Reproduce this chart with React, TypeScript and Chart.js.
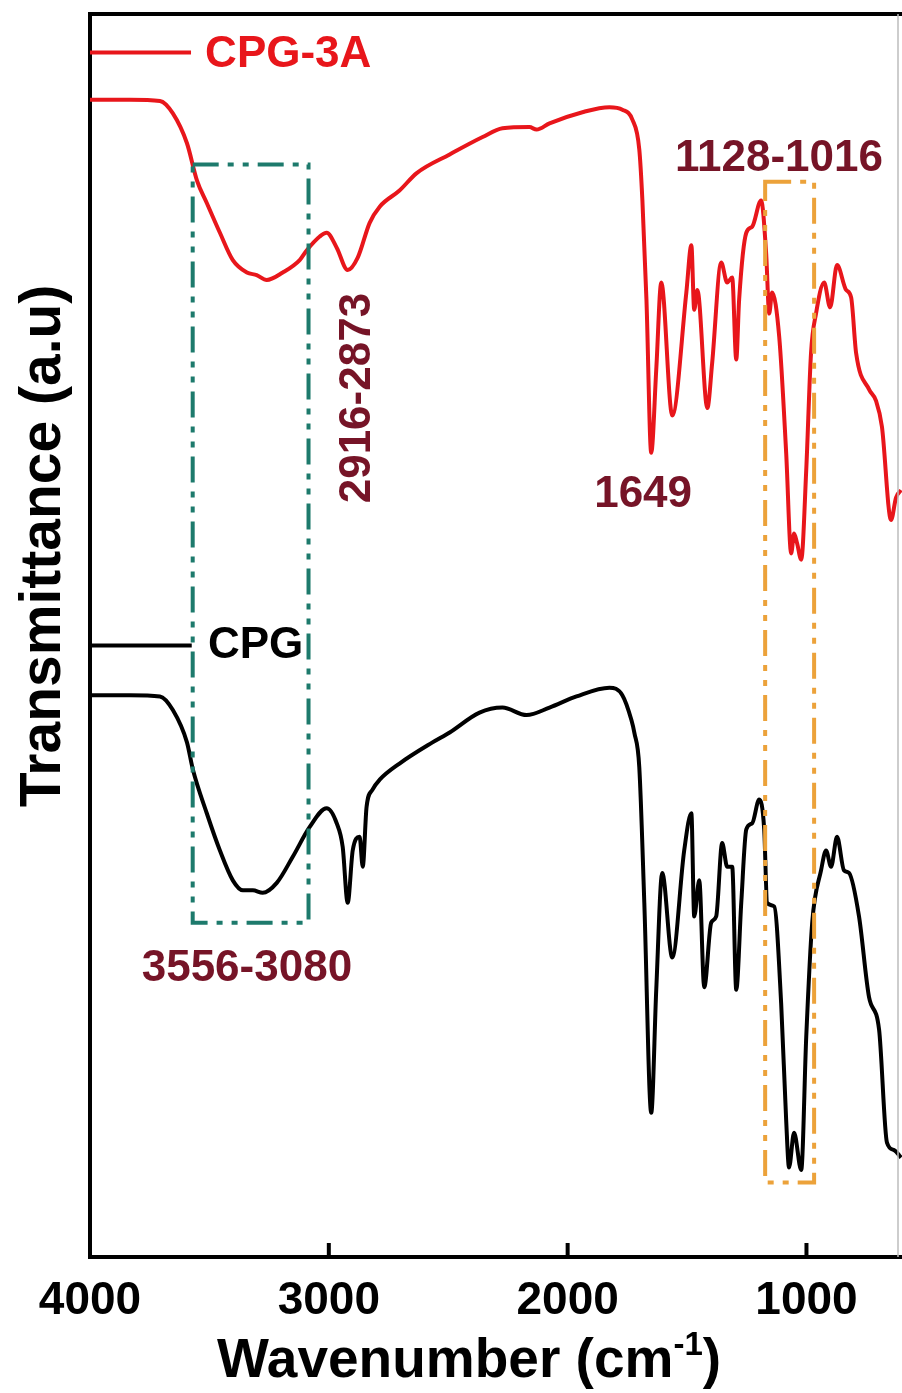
import React, { useEffect, useRef } from 'react';
import { Chart, registerables } from 'chart.js';

Chart.register(...registerables);

// ---- Data ----
const seriesNames = ['CPG-3A', 'CPG'];

const wavenumberCPG3A = [
  4000, 3833, 3707, 3653, 3594, 3552, 3511, 3456, 3402, 3343, 3302, 3260, 3193, 3122, 3092, 3038,
  3009, 2967, 2921, 2879, 2829, 2787, 2704, 2632, 2494, 2356, 2273, 2160, 2130, 2076, 1938, 1825,
  1771, 1729, 1700, 1687, 1670, 1650, 1629, 1608, 1562, 1503, 1482, 1470, 1457, 1415, 1395, 1357,
  1332, 1311, 1294, 1282, 1252, 1227, 1190, 1169, 1156, 1144, 1114, 1085, 1064, 1052, 1039, 1022,
  1001, 981, 960, 926, 901, 872, 834, 813, 792, 738, 709, 684, 646, 625, 604,
];
const transmittanceCPG3A = [
  93.1, 93.1, 93.0, 92.0, 89.6, 86.6, 84.8, 82.4, 80.2, 79.2, 79.0, 78.6, 79.2, 80.2, 81.0, 82.1,
  82.4, 81.2, 79.4, 80.4, 83.2, 84.5, 85.8, 87.2, 88.7, 90.1, 90.8, 90.9, 90.7, 91.2, 92.1, 92.5,
  92.3, 91.5, 89.1, 85.0, 77.0, 64.7, 71.4, 78.4, 67.7, 77.6, 81.4, 76.2, 77.8, 68.3, 71.9, 80.0,
  78.4, 78.8, 72.2, 77.0, 82.4, 82.9, 85.0, 80.8, 75.9, 77.6, 74.0, 64.7, 56.6, 58.2, 57.4, 56.1,
  63.3, 72.7, 75.9, 78.4, 76.4, 79.8, 77.8, 77.2, 72.7, 69.8, 68.9, 66.8, 59.3, 61.1, 61.7,
];

const wavenumberCPG = [
  4000, 3833, 3707, 3653, 3594, 3569, 3511, 3456, 3402, 3360, 3318, 3277, 3218, 3151, 3080, 3009,
  2967, 2942, 2921, 2900, 2871, 2858, 2842, 2817, 2787, 2704, 2566, 2494, 2369, 2273, 2172, 2076,
  1963, 1825, 1771, 1733, 1721, 1700, 1679, 1650, 1629, 1604, 1562, 1512, 1482, 1470, 1449, 1428,
  1399, 1378, 1353, 1332, 1311, 1294, 1273, 1252, 1227, 1198, 1177, 1165, 1135, 1106, 1085, 1073,
  1052, 1022, 1001, 976, 939, 918, 897, 872, 843, 822, 780, 738, 696, 663, 633, 604,
];
const transmittanceCPG = [
  45.2, 45.2, 45.1, 44.0, 41.4, 39.2, 35.7, 32.7, 30.3, 29.5, 29.5, 29.3, 30.1, 32.2, 34.6, 36.1,
  34.9, 33.0, 28.5, 32.7, 33.8, 31.4, 36.2, 37.6, 38.4, 39.7, 41.4, 42.2, 43.8, 44.2, 43.6, 44.2,
  45.1, 45.8, 45.2, 43.2, 42.2, 39.4, 28.5, 11.6, 21.5, 30.9, 24.1, 32.7, 35.7, 27.4, 30.3, 21.7,
  26.9, 27.4, 33.3, 31.4, 31.4, 21.5, 28.5, 34.4, 34.9, 36.8, 34.4, 28.5, 28.2, 20.4, 11.0, 7.2,
  10.0, 7.0, 17.7, 26.9, 31.1, 32.7, 31.4, 33.8, 31.1, 30.9, 27.4, 20.9, 18.3, 9.2, 8.6, 8.0,
];

const xTickValues = [4000, 3000, 2000, 1000];
const peakLabels = ['2916-2873', '1649', '1128-1016', '3556-3080'];

const FONT = '"Liberation Sans", Arial, Helvetica, sans-serif';
const RED = '#e8161b';
const MAROON = '#761427';
const TEAL = '#1d7a6c';
const ORANGE = '#eca23a';

Chart.defaults.font.family = FONT;

const toPoints = (xs: number[], ys: number[]) => xs.map((v, i) => ({ x: v, y: ys[i] }));

const decorPlugin = {
  id: 'ftirDecor',
  afterDatasetsDraw(chart: any) {
    const { ctx, chartArea } = chart;
    const xs = chart.scales.x;
    const ys = chart.scales.y;
    const X = (v: number) => xs.getPixelForValue(v);
    const Y = (v: number) => ys.getPixelForValue(v);
    ctx.save();

    // top frame
    ctx.strokeStyle = '#000';
    ctx.lineWidth = 4;
    ctx.setLineDash([]);
    ctx.beginPath();
    ctx.moveTo(chartArea.left - 2, chartArea.top);
    ctx.lineTo(chartArea.right, chartArea.top);
    ctx.stroke();

    // faint right frame
    ctx.strokeStyle = '#bdbdbd';
    ctx.lineWidth = 1.5;
    ctx.beginPath();
    ctx.moveTo(chartArea.right - 4, chartArea.top);
    ctx.lineTo(chartArea.right - 4, chartArea.bottom);
    ctx.stroke();

    // inward tick marks
    ctx.strokeStyle = '#000';
    ctx.lineWidth = 4;
    xTickValues.slice(1).forEach((v) => {
      const px = X(v);
      ctx.beginPath();
      ctx.moveTo(px, chartArea.bottom);
      ctx.lineTo(px, chartArea.bottom - 14);
      ctx.stroke();
    });

    // dash-dot boxes
    const box = (x1: number, y1: number, x2: number, y2: number, color: string) => {
      ctx.strokeStyle = color;
      ctx.lineWidth = 4;
      ctx.setLineDash([26, 9, 6, 9, 6, 9]);
      ctx.strokeRect(X(x1), Y(y1), X(x2) - X(x1), Y(y2) - Y(y1));
      ctx.setLineDash([]);
    };
    box(3570, 87.9, 3085, 26.9, TEAL);
    box(1173, 86.5, 968, 6.0, ORANGE);

    // legend-like labels
    ctx.lineWidth = 4;
    ctx.strokeStyle = RED;
    ctx.beginPath();
    ctx.moveTo(X(4000), Y(96.9));
    ctx.lineTo(X(3577), Y(96.9));
    ctx.stroke();
    ctx.strokeStyle = '#000';
    ctx.beginPath();
    ctx.moveTo(X(4000), Y(49.2));
    ctx.lineTo(X(3574), Y(49.2));
    ctx.stroke();

    ctx.font = `bold 44px ${FONT}`;
    ctx.textAlign = 'left';
    ctx.textBaseline = 'alphabetic';
    ctx.fillStyle = RED;
    ctx.fillText(seriesNames[0], X(3518), Y(95.7));
    ctx.fillStyle = '#000';
    ctx.fillText(seriesNames[1], X(3506), Y(48.2));

    // peak annotations
    ctx.font = `bold 44px ${FONT}`;
    ctx.fillStyle = MAROON;
    ctx.textAlign = 'center';
    ctx.save();
    ctx.translate(X(2827), Y(69.1));
    ctx.rotate(-Math.PI / 2);
    ctx.fillText(peakLabels[0], 0, 0);
    ctx.restore();
    ctx.fillText(peakLabels[1], X(1684), Y(60.3));
    ctx.fillText(peakLabels[2], X(1115), Y(87.4));
    ctx.fillText(peakLabels[3], X(3343), Y(22.2));

    // axis titles
    ctx.fillStyle = '#000';
    ctx.save();
    ctx.font = `bold 57px ${FONT}`;
    ctx.translate(chartArea.left - 30, Y(57.2));
    ctx.rotate(-Math.PI / 2);
    ctx.textAlign = 'center';
    ctx.fillText('Transmittance (a.u)', 0, 0);
    ctx.restore();

    const main1 = 'Wavenumber (cm';
    const sup = '-1';
    const main2 = ')';
    ctx.textAlign = 'left';
    ctx.font = `bold 55px ${FONT}`;
    const w1 = ctx.measureText(main1).width;
    const w3 = ctx.measureText(main2).width;
    ctx.font = `bold 33px ${FONT}`;
    const w2 = ctx.measureText(sup).width;
    const cx = X(2413);
    const by = chartArea.bottom + 120;
    let sx = cx - (w1 + w2 + w3) / 2;
    ctx.font = `bold 55px ${FONT}`;
    ctx.fillText(main1, sx, by);
    sx += w1;
    ctx.font = `bold 33px ${FONT}`;
    ctx.fillText(sup, sx, by - 22);
    sx += w2;
    ctx.font = `bold 55px ${FONT}`;
    ctx.fillText(main2, sx, by);

    ctx.restore();
  },
};

export default function App() {
  const canvasRef = useRef<HTMLCanvasElement | null>(null);

  useEffect(() => {
    if (!canvasRef.current) return;
    const chart = new Chart(canvasRef.current, {
      type: 'line',
      data: {
        datasets: [
          {
            label: seriesNames[0],
            data: toPoints(wavenumberCPG3A, transmittanceCPG3A),
            borderColor: RED,
            borderWidth: 4,
            pointRadius: 0,
            cubicInterpolationMode: 'monotone',
            fill: false,
          },
          {
            label: seriesNames[1],
            data: toPoints(wavenumberCPG, transmittanceCPG),
            borderColor: '#000',
            borderWidth: 4,
            pointRadius: 0,
            cubicInterpolationMode: 'monotone',
            fill: false,
          },
        ],
      },
      options: {
        animation: false,
        responsive: false,
        devicePixelRatio: 1,
        layout: { padding: { top: 14, right: 0, left: 0, bottom: 0 } },
        plugins: {
          legend: { display: false },
          tooltip: { enabled: false },
          title: { display: false },
        },
        scales: {
          x: {
            type: 'linear',
            min: 600,
            max: 4000,
            reverse: true,
            afterFit: (s: any) => {
              s.height = 136;
            },
            afterBuildTicks: (s: any) => {
              s.ticks = xTickValues.map((v) => ({ value: v }));
            },
            grid: { display: false },
            border: { display: true, width: 4, color: '#000' },
            ticks: {
              font: { size: 46, weight: 'bold', family: FONT },
              color: '#000',
              padding: 9,
              maxRotation: 0,
              autoSkip: false,
              callback: (v: any) => String(v),
            },
          },
          y: {
            type: 'linear',
            min: 0,
            max: 100,
            afterFit: (s: any) => {
              s.width = 90;
            },
            ticks: { display: false },
            grid: { display: false },
            border: { display: true, width: 4, color: '#000' },
          },
        },
      },
      plugins: [decorPlugin],
    } as any);
    return () => chart.destroy();
  }, []);

  return (
    <div style={{ position: 'absolute', left: 0, top: 0, width: 902, height: 1393, background: '#fff' }}>
      <canvas ref={canvasRef} width={902} height={1393} style={{ display: 'block' }} />
    </div>
  );
}
